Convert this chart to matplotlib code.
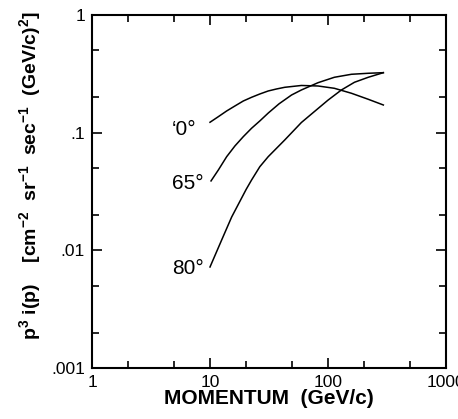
import numpy as np
import matplotlib
matplotlib.use('Agg')
import matplotlib.pyplot as plt
from matplotlib.ticker import FixedLocator, FixedFormatter, NullFormatter

plt.rcParams['font.family'] = ['Liberation Sans', 'DejaVu Sans']
plt.rcParams['mathtext.fontset'] = 'custom'
plt.rcParams['mathtext.bf'] = 'Liberation Sans:bold'
plt.rcParams['mathtext.rm'] = 'Liberation Sans'

# krzywe (pęd w GeV/c, p^3 i(p))
p_0 = [10, 11.77, 13.84, 16.26, 19.15, 22.50, 26.44, 31.13, 36.59, 43.00,
       59.48, 82.33, 113.2, 158.0, 219.3, 294.4]
v_0 = [0.1226, 0.1368, 0.1529, 0.1686, 0.1859, 0.1998, 0.2132, 0.2261, 0.2351, 0.2430,
       0.2518, 0.2493, 0.2383, 0.2162, 0.1922, 0.1719]

p_65 = [10.2, 11.77, 13.84, 16.26, 19.15, 22.50, 26.44, 31.2, 38.5, 49.1, 59.48,
        82.33, 113.2, 158.0, 219.3, 294.4]
v_65 = [0.0389, 0.0482, 0.0625, 0.0771, 0.0925, 0.1090, 0.1258, 0.147, 0.176, 0.209, 0.2306,
        0.2659, 0.2956, 0.3135, 0.3197, 0.3235]

p_80 = [10, 12.56, 15.26, 20.26, 22.50, 26.44, 31.13, 43.00, 59.48, 76.6,
        100, 129.9, 167.6, 219.3, 294.4]
v_80 = [0.00722, 0.01226, 0.0192, 0.0330, 0.0396, 0.0514, 0.0625, 0.0867, 0.122, 0.151,
        0.189, 0.2306, 0.2681, 0.2956, 0.3235]

etykiety = ['\u20180\u00b0', '65\u00b0', '80\u00b0']
# miejsca etykiet (prawy brzeg, linia bazowa)
etykiety_x = [7.72, 8.85, 8.85]
etykiety_y = [0.0956, 0.0332, 0.0063]

xticks = [1, 10, 100, 1000]
xtick_labels = ['1', '10', '100', '1000']
yticks = [0.001, 0.01, 0.1, 1]
ytick_labels = ['.001', '.01', '.1', '1']
minor = [2, 5]

fig = plt.figure(figsize=(4.58, 4.19), dpi=100)
ax = fig.add_axes([0.2009, 0.1217, 0.7729, 0.8425])

for p, v in [(p_0, v_0), (p_65, v_65), (p_80, v_80)]:
    ax.plot(p, v, color='black', lw=1.1)

for tekst, x, y in zip(etykiety, etykiety_x, etykiety_y):
    ax.text(x, y, tekst, ha='right', va='baseline', fontsize=15)

ax.set_xscale('log')
ax.set_yscale('log')
ax.set_xlim(1, 1000)
ax.set_ylim(0.001, 1)

ax.xaxis.set_major_locator(FixedLocator(xticks))
ax.xaxis.set_major_formatter(FixedFormatter(xtick_labels))
ax.yaxis.set_major_locator(FixedLocator(yticks))
ax.yaxis.set_major_formatter(FixedFormatter(ytick_labels))
ax.xaxis.set_minor_locator(FixedLocator([m * d for d in [1, 10, 100] for m in minor]))
ax.yaxis.set_minor_locator(FixedLocator([m * d for d in [0.001, 0.01, 0.1] for m in minor]))
ax.xaxis.set_minor_formatter(NullFormatter())
ax.yaxis.set_minor_formatter(NullFormatter())

ax.tick_params(which='both', direction='in', top=True, right=True, width=1.2, labelsize=12.5)
ax.tick_params(which='major', length=7, pad=5)
ax.tick_params(which='minor', length=5)
for s in ax.spines.values():
    s.set_linewidth(1.5)

fig.text(0.587, 0.048, 'MOMENTUM  (GeV/c)', ha='center', va='center',
         fontsize=15, fontweight='bold')
fig.text(0.068, 0.58,
         r'p$^{\mathbf{3}}$ i(p)    [cm$^{\mathbf{-2}}$  sr$^{\mathbf{-1}}$  sec$^{\mathbf{-1}}$  (GeV/c)$^{\mathbf{2}}$]',
         rotation=90, ha='center', va='center', fontsize=14, fontweight='bold')

fig.savefig('out.png', dpi=100)
